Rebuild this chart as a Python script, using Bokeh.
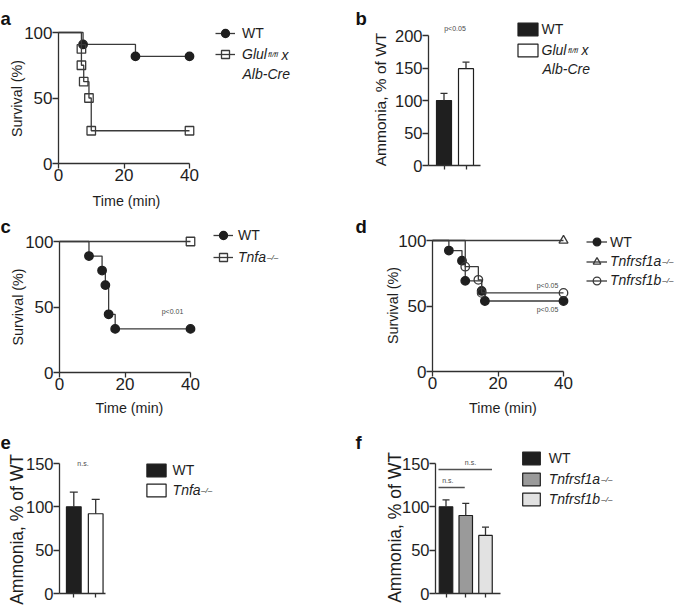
import math
from bokeh.plotting import figure
from bokeh.models import Legend, LegendItem, Label, FixedTicker, Range1d, LinearAxis
from bokeh.layouts import column, row
from bokeh.embed import file_html
from bokeh.resources import INLINE

# ---------------- data ----------------
time_ticks = [0, 20, 40]
survival_ticks = [0, 50, 100]
end_time = 40

# panel a : survival, WT vs Glul fl/fl x Alb-Cre
a_wt_time = [7.5, 23.5]
a_wt_surv = [90.9, 81.8]
a_glul_time = [7, 7, 7.7, 9.3, 10]
a_glul_surv = [87.5, 75, 62.5, 50, 25]

# panel b : ammonia
b_mean = [100, 149]
b_sem = [11, 10]
b_ticks = [0, 50, 100, 150, 200]
b_p = "p<0.05"

# panel c : survival, WT vs Tnfa-/-
c_wt_time = [9, 13, 14, 15, 17]
c_wt_surv = [88.9, 77.8, 66.7, 44.4, 33.3]
c_tnfa_time = []
c_tnfa_surv = []
c_p = "p<0.01"

# panel d : survival, WT vs Tnfrsf1a-/- vs Tnfrsf1b-/-
d_wt_time = [5, 9, 10, 15, 16]
d_wt_surv = [92.3, 84.6, 69.2, 61.5, 53.8]
d_r1a_time = []
d_r1a_surv = []
d_r1b_time = [10, 14, 15]
d_r1b_surv = [80, 70, 60]
d_p = ["p<0.05", "p<0.05"]

# panel e : ammonia
e_mean = [100, 92]
e_sem = [17, 16.5]
ammonia_ticks = [0, 50, 100, 150]

# panel f : ammonia
f_mean = [100, 90, 67]
f_sem = [8, 14, 9.5]

# ---------------- style / layout ----------------
S = 1.0
FONT = "Liberation Sans"
AXC = "#303030"
LINEC = "#3a3a3a"
DARK = "#1f1f1f"
TXT = "#1e1e1e"
GREY = "#4a4a4a"

COL_X = [0, 340]
COL_W = [340, 335]
ROW_Y = [0, 210, 420]
ROW_H = [210, 210, 186]

CW = {"W": 0.944, "T": 0.611, "G": 0.778, "n": 0.556, "f": 0.278, "r": 0.333,
      "s": 0.5, "1": 0.556, "a": 0.556, "b": 0.556, "l": 0.222, "u": 0.556,
      "/": 0.278, "\u2013": 0.556, "x": 0.5, " ": 0.278}


def tw(text, size):
    return sum(CW.get(c, 0.556) for c in text) * size


def make_panel(ci, ri, ax_x, ax_y, x_at_axis, x_ppu, y_ppu):
    """The frame covers the whole figure; ax_x / ax_y are the pixel positions
    of the y axis (data x = x_at_axis) and of the x axis (data y = 0)."""
    W, H = COL_W[ci], ROW_H[ri]
    ox, oy = COL_X[ci], ROW_Y[ri]
    kx, ky = x_ppu * S, y_ppu * S
    relx = ax_x * S - ox
    x_start = x_at_axis - relx / kx
    rely = (oy + H) - ax_y * S
    y_start = -rely / ky
    p = figure(width=W, height=H, output_backend="svg", toolbar_location=None,
               x_range=Range1d(x_start, x_start + W / kx),
               y_range=Range1d(y_start, y_start + H / ky),
               x_axis_location=None, y_axis_location=None, min_border=0)
    p.outline_line_color = None
    p.grid.visible = False
    g = {"ox": ox, "oy": oy, "H": H, "xa": x_at_axis}
    return p, g


def add_axes(p, g, xticks, yticks, xb, yb, tick_size, x_labels=True):
    xa = LinearAxis(fixed_location=0, ticker=FixedTicker(ticks=xticks), bounds=xb)
    ya = LinearAxis(fixed_location=g["xa"], ticker=FixedTicker(ticks=yticks), bounds=yb)
    for ax in (xa, ya):
        ax.axis_line_color = AXC
        ax.axis_line_width = 1.3
        ax.major_tick_line_color = AXC
        ax.major_tick_line_width = 1.3
        ax.major_tick_in = 0
        ax.minor_tick_line_color = None
        ax.major_label_text_font = FONT
        ax.major_label_text_color = TXT
        ax.major_label_text_font_size = f"{tick_size * S:.1f}px"
    ya.major_tick_out = 6
    ya.major_label_standoff = 0
    xa.major_tick_out = 5
    xa.major_label_standoff = 0
    if not x_labels:
        xa.major_label_overrides = {t: "" for t in xticks}
        xa.major_tick_out = 4
    p.add_layout(xa, "below")
    p.add_layout(ya, "left")


def lab(p, g, X, Y, text, size, align="left", baseline="middle", style="normal",
        color=TXT, angle=0.0):
    p.add_layout(Label(x=X * S - g["ox"], y=g["oy"] + g["H"] - Y * S,
                       x_units="screen", y_units="screen", angle=angle,
                       text=text, text_font=FONT, text_font_size=f"{size * S:.1f}px",
                       text_align=align, text_baseline=baseline, text_font_style=style,
                       text_color=color))


def ytitle(p, g, X, Y, text, size):
    lab(p, g, X, Y, text, size, align="center", baseline="middle", angle=math.pi / 2)


def xtitle(p, g, X, Y, text, size=14.3):
    lab(p, g, X, Y, text, size, align="center", baseline="middle")


def letter(p, g, X, Y, t):
    lab(p, g, X, Y, t, 18.5, baseline="alphabetic", style="bold", color="#111111")


def km_path(times, surv, end):
    xs, ys, cur = [0], [100], 100
    for t, s in zip(times, surv):
        xs += [t, t]
        ys += [cur, s]
        cur = s
    xs.append(end)
    ys.append(cur)
    return xs, ys


def km(p, times, surv, marker, filled, size=8.5):
    xs, ys = km_path(times, surv, end_time)
    lr = p.line(xs, ys, line_color=LINEC, line_width=1.3)
    mx = list(times) + [end_time]
    my = list(surv) + [ys[-1]]
    sr = p.scatter(mx, my, marker=marker, size=size * S,
                   fill_color=DARK if filled else None,
                   line_color=DARK if filled else LINEC, line_width=1.3)
    return [lr, sr]


def legend(p, g, entries, gx, yc0, pitch, glyph_w, glyph_h, standoff, italic, size=14):
    n = len(entries)
    gh = round(glyph_h * S)
    sp = max(0, round(pitch * S) - gh)
    top = yc0 * S - gh / 2
    bottom = top + n * gh + (n - 1) * sp
    items = []
    for lbl, rends, idx in entries:
        if idx is None:
            items.append(LegendItem(label=lbl, renderers=rends))
        else:
            items.append(LegendItem(label=lbl, renderers=rends, index=idx))
    leg = Legend(items=items, location=(gx * S - g["ox"], g["oy"] + g["H"] - bottom),
                 orientation="vertical", glyph_width=round(glyph_w * S), glyph_height=gh,
                 label_height=gh, label_standoff=round(standoff * S), spacing=sp,
                 padding=0, margin=0, border_line_color=None, background_fill_alpha=0,
                 label_text_font=FONT, label_text_font_size=f"{size * S:.1f}px",
                 label_text_font_style="italic" if italic else "normal",
                 label_text_color=TXT)
    p.add_layout(leg)


def bars(p, xs, means, sems, width, cap, fills):
    r = p.vbar(x=xs, top=means, bottom=0, width=width, fill_color=fills,
               line_color=DARK, line_width=1.2)
    tops = [m + e for m, e in zip(means, sems)]
    p.segment(x0=xs, y0=means, x1=xs, y1=tops, line_color=AXC, line_width=1.3)
    p.segment(x0=[x - cap / 2 for x in xs], y0=tops, x1=[x + cap / 2 for x in xs], y1=tops,
              line_color=AXC, line_width=1.3)
    return r


ppx = 131 / 40
ppy = 1.31

# ---------------- panel a ----------------
pa, ga = make_panel(0, 0, 58, 163, 0, ppx, ppy)
add_axes(pa, ga, time_ticks, survival_ticks, (0, 40), (0, 100), 17)
ra_wt = km(pa, a_wt_time, a_wt_surv, "circle", True)
ra_gl = km(pa, a_glul_time, a_glul_surv, "square", False)
legend(pa, ga, [("WT", ra_wt, None)], 215, 33, 21, 20, 20, 7, False)
legend(pa, ga, [("Glul", ra_gl, None)], 215, 54, 21, 20, 20, 7, True)
xs_a = 242 + tw("Glul", 14)
lab(pa, ga, xs_a + 0.5, 54, "fl/fl", 8, baseline="alphabetic", style="italic")
lab(pa, ga, xs_a + tw("fl/fl", 8) + 4, 54, "x", 14, style="italic")
lab(pa, ga, 242, 73, "Alb-Cre", 14, style="italic")
ytitle(pa, ga, 16, 98, "Survival (%)", 14.3)
xtitle(pa, ga, 126, 200, "Time (min)")
letter(pa, ga, 0, 18, "a")

# ---------------- panel b ----------------
bsp = 22
b_axis0 = 1 - (443.5 - 428) / bsp
pb, gb = make_panel(1, 0, 428, 165, b_axis0, bsp, 0.65)
add_axes(pb, gb, [1, 2], b_ticks, (b_axis0, 1 + (480 - 443.5) / bsp), (0, 200), 16.5,
         x_labels=False)
rb = bars(pb, [1, 2], b_mean, b_sem, 15 / bsp, 7 / bsp, [DARK, "#ffffff"])
legend(pb, gb, [("WT", [rb], 0)], 514.5, 28.5, 21, 25, 16.5, 2.5, False)
legend(pb, gb, [("Glul", [rb], 1)], 514.5, 49.5, 21, 25, 16.5, 2.5, True)
xs_b = 542 + tw("Glul", 14)
lab(pb, gb, xs_b + 0.5, 49.5, "fl/fl", 8, baseline="alphabetic", style="italic")
lab(pb, gb, xs_b + tw("fl/fl", 8) + 4, 49.5, "x", 14, style="italic")
lab(pb, gb, 542, 68, "Alb-Cre", 14, style="italic")
lab(pb, gb, 454.5, 28, b_p, 7, align="center", color=GREY)
ytitle(pb, gb, 380, 99, "Ammonia, % of WT", 15.5)
letter(pb, gb, 355, 18, "b")

# ---------------- panel c ----------------
pc, gc = make_panel(0, 1, 59, 372, 0, ppx, ppy)
add_axes(pc, gc, time_ticks, survival_ticks, (0, 40), (0, 100), 17)
rc_wt = km(pc, c_wt_time, c_wt_surv, "circle", True)
rc_ko = km(pc, c_tnfa_time, c_tnfa_surv, "square", False)
legend(pc, gc, [("WT", rc_wt, None)], 213, 235, 21.5, 20, 20, 5, False)
legend(pc, gc, [("Tnfa", rc_ko, None)], 213, 256.5, 21.5, 20, 20, 5, True)
lab(pc, gc, 238 + tw("Tnfa", 14) + 0.5, 256.5, "\u2013/\u2013", 8, baseline="alphabetic",
    style="italic")
lab(pc, gc, 172, 311, c_p, 7, align="center", color=GREY)
ytitle(pc, gc, 17.5, 306.5, "Survival (%)", 14.3)
xtitle(pc, gc, 129, 407.5, "Time (min)")
letter(pc, gc, 0, 226, "c")

# ---------------- panel d ----------------
pd_, gd = make_panel(1, 1, 432, 371, 0, ppx, ppy)
add_axes(pd_, gd, time_ticks, survival_ticks, (0, 40), (0, 100), 17)
rd_wt = km(pd_, d_wt_time, d_wt_surv, "circle", True)
rd_1a = km(pd_, d_r1a_time, d_r1a_surv, "triangle", False, size=9)
rd_1b = km(pd_, d_r1b_time, d_r1b_surv, "circle", False)
legend(pd_, gd, [("WT", rd_wt, None)], 586, 241.7, 19, 21, 19, 3, False)
legend(pd_, gd, [("Tnfrsf1a", rd_1a, None), ("Tnfrsf1b", rd_1b, None)],
       586, 261, 19, 21, 19, 3, True)
for yc, nm in [(261, "Tnfrsf1a"), (280, "Tnfrsf1b")]:
    lab(pd_, gd, 610 + tw(nm, 14) + 0.5, yc, "\u2013/\u2013", 8, baseline="alphabetic",
        style="italic")
lab(pd_, gd, 547, 285, d_p[0], 7, align="center", color=GREY)
lab(pd_, gd, 547, 309, d_p[1], 7, align="center", color=GREY)
ytitle(pd_, gd, 392, 305, "Survival (%)", 14.3)
xtitle(pd_, gd, 502.5, 407.5, "Time (min)")
letter(pd_, gd, 355, 226, "d")

# ---------------- panel e ----------------
esp = 21.9
e_axis0 = 1 - (73.3 - 59) / esp
pe, ge = make_panel(0, 2, 59, 593, e_axis0, esp, 130 / 150)
add_axes(pe, ge, [1, 2], ammonia_ticks, (e_axis0, 1 + (105 - 73.3) / esp), (0, 150), 16.5,
         x_labels=False)
re_ = bars(pe, [1, 2], e_mean, e_sem, 14.7 / esp, 8 / esp, [DARK, "#ffffff"])
legend(pe, ge, [("WT", [re_], 0)], 143.6, 470, 19.5, 23.75, 16.5, 4.6, False)
legend(pe, ge, [("Tnfa", [re_], 1)], 143.6, 489.5, 19.5, 23.75, 16.5, 4.6, True)
lab(pe, ge, 172 + tw("Tnfa", 14) + 0.5, 489.5, "\u2013/\u2013", 8, baseline="alphabetic",
    style="italic")
lab(pe, ge, 82.5, 463, "n.s.", 7, align="center", color=GREY)
ytitle(pe, ge, 16.5, 529, "Ammonia, % of WT", 17.5)
letter(pe, ge, 0, 442, "e")

# ---------------- panel f ----------------
fsp = 19.75
f_axis0 = 1 - (445.5 - 435) / fsp
pf, gf = make_panel(1, 2, 435, 593, f_axis0, fsp, 130 / 150)
add_axes(pf, gf, [1, 2, 3], ammonia_ticks, (f_axis0, 1 + (500 - 445.5) / fsp), (0, 150),
         16.5, x_labels=False)
rf = bars(pf, [1, 2, 3], f_mean, f_sem, 13.5 / fsp, 7 / fsp, [DARK, "#9a9a9a", "#e2e2e2"])
# significance brackets (annotation positions)
sig_x0 = [1 - 7.5 / fsp, 1 - 7.5 / fsp]
sig_x1 = [3 + 6.5 / fsp, 2 - 1 / fsp]
sig_y = [143, 122.3]
pf.segment(x0=sig_x0, y0=sig_y, x1=sig_x1, y1=sig_y, line_color="#505050", line_width=1.6)
lab(pf, gf, 470, 461.7, "n.s.", 7, align="center", color=GREY)
lab(pf, gf, 447.3, 480, "n.s.", 7, align="center", color=GREY)
legend(pf, gf, [("WT", [rf], 0)], 519.75, 457.5, 20.5, 22.5, 16.5, 6.75, False)
legend(pf, gf, [("Tnfrsf1a", [rf], 1), ("Tnfrsf1b", [rf], 2)],
       519.75, 478.5, 20.5, 22.5, 16.5, 6.75, True)
for yc, nm in [(478.5, "Tnfrsf1a"), (499, "Tnfrsf1b")]:
    lab(pf, gf, 549 + tw(nm, 14) + 0.5, yc, "\u2013/\u2013", 8, baseline="alphabetic",
        style="italic")
ytitle(pf, gf, 394, 527, "Ammonia, % of WT", 17.5)
letter(pf, gf, 355, 442, "f")

layout = column(row(pa, pb), row(pc, pd_), row(pe, pf))
open("out.html", "w").write(file_html(layout, INLINE, title="Survival and ammonia"))
